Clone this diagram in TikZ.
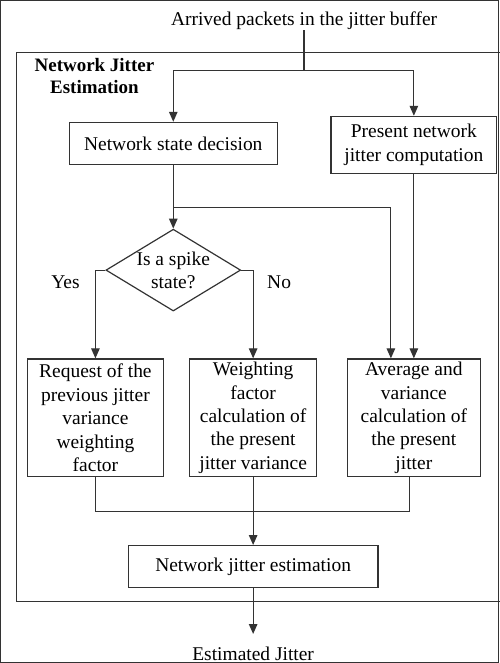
\documentclass[tikz,border=0pt]{standalone}
\usepackage{fontspec}
\setmainfont{Liberation Serif}
\usetikzlibrary{arrows.meta,shapes.geometric}
\begin{document}
\begin{tikzpicture}[x=1pt,y=-1pt,
  font=\fontsize{19.5pt}{23.5pt}\selectfont,
  line width=1.2pt,
  every path/.style={draw=black!80},
  box/.style={draw=black!80,rectangle,align=center,inner sep=1pt},
  lbl/.style={align=center,inner sep=0pt},
  arrow/.style={-{Triangle[length=10pt,width=8.5pt]}}]
\useasboundingbox (0,0) rectangle (499,663);
% outer frame
\draw (500,52) -- (16,52) -- (16,602) -- (500,602);
\node[lbl,font=\fontsize{19pt}{22pt}\selectfont\bfseries] (title) at (94,76) {Network Jitter\\Estimation};
% nodes
\node[lbl] (arr) at (304,20) {Arrived packets in the jitter buffer};
\node[box,minimum width=208pt,minimum height=42pt] (nsd) at (173,143) {Network state decision};
\node[box,minimum width=166pt,minimum height=57pt] (pnjc) at (414,144.5) {Present network\\jitter computation};
\node[draw=black!80,diamond,aspect=1.63,minimum width=135pt,minimum height=82pt,inner sep=0pt] (dec) at (173,270) {};
\node[lbl] (dectext) at (173,270) {Is a spike\\state?};
\node[lbl] (yes) at (65,282) {Yes};
\node[lbl] (no) at (279,282) {No};
\node[box,minimum width=136pt,minimum height=118pt] (req) at (95,418) {Request of the\\previous jitter\\variance\\weighting\\factor};
\node[box,minimum width=127pt,minimum height=118pt] (wfc) at (253,418) {Weighting\\factor\\calculation of\\the present\\jitter variance};
\node[box,minimum width=133pt,minimum height=118pt] (avg) at (414,418) {Average and\\variance\\calculation of\\the present\\jitter};
\node[box,minimum width=250pt,minimum height=42pt] (nje) at (253,567) {Network jitter estimation};
\node[lbl] (est) at (253,654) {Estimated Jitter};
\coordinate (split) at (304,70);
\coordinate (j1) at (173,207);
\coordinate (j2) at (253,512);
% connectors
\draw (arr.south) -- (split);
\draw[arrow] (split) -| (nsd.north);
\draw[arrow] (split) -| (pnjc.north);
\draw[arrow] (nsd.south) -- (dec.north);
\draw[arrow] (j1) -| ([xshift=-23pt]avg.north);
\draw[arrow] (pnjc.south) -- (avg.north);
\draw[arrow] (dec.west) -| (req.north);
\draw[arrow] (dec.east) -| (wfc.north);
\draw (req.south) |- (j2) -| ([xshift=-4pt]avg.south);
\draw[arrow] (wfc.south) -- (nje.north);
\draw[arrow] (nje.south) -- ([yshift=12pt]est.north);
\end{tikzpicture}
\end{document}
